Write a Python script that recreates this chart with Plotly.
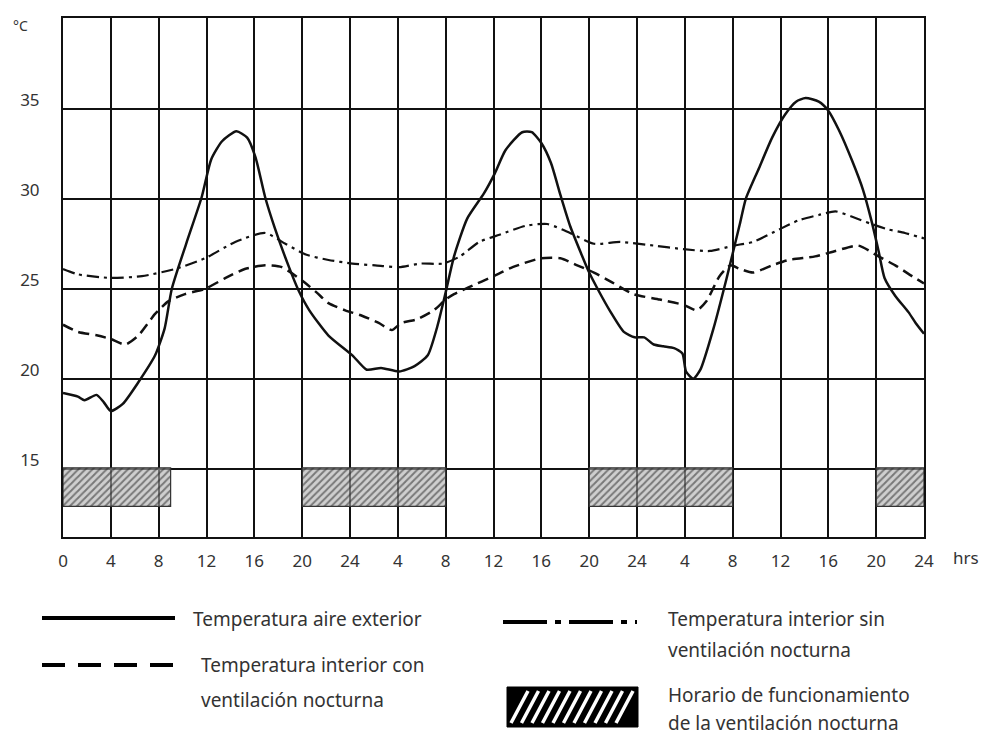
import plotly.graph_objects as go

# ---------------- data ----------------
ext_h = [0, 1.25, 1.8, 2.8, 3.4, 4, 5, 6.3, 7.7, 8.5, 9.1, 10.3, 11.6, 12.4, 13.3, 14.5, 15.4, 16.1,
         16.9, 17.7, 18.9, 19.7, 20.6, 22.2, 24.2, 25.4, 26.6, 28.1, 29.4, 30.5, 31.3, 32, 32.7,
         33.8, 35.2, 36.1, 37, 38.4, 39.2, 40, 40.8, 41.6, 42.4, 43.3, 44, 44.7, 45.8, 46.9, 47.8,
         48.6, 49.4, 50.2, 51.1, 51.8, 52.1, 52.7, 53.3, 54.4, 55.5, 56.6, 57.1, 58.2, 59.3, 60.4,
         61.3, 62.1, 63.2, 64, 64.9, 66, 66.9, 67.6, 68.2, 68.7, 69.6, 70.7, 71.3, 72]
ext_t = [19.2, 19.0, 18.8, 19.1, 18.7, 18.2, 18.6, 19.8, 21.3, 22.8, 25.0, 27.5, 30.1, 32.2, 33.2, 33.75, 33.4, 32.3,
         30.1, 28.4, 26.2, 24.9, 23.8, 22.4, 21.3, 20.5, 20.6, 20.4, 20.7, 21.3, 22.9, 24.8, 26.8,
         28.9, 30.3, 31.4, 32.7, 33.7, 33.7, 33.1, 32.0, 30.2, 28.5, 27.0, 25.9, 25.0, 23.7, 22.6, 22.3,
         22.3, 21.9, 21.8, 21.7, 21.4, 20.4, 20.0, 20.5, 22.8, 25.6, 28.6, 30.0, 31.7, 33.4, 34.7,
         35.4, 35.6, 35.4, 34.9, 33.8, 32.1, 30.5, 28.8, 27.1, 25.6, 24.6, 23.7, 23.1, 22.5]

sin_h = [0, 1.25, 4, 6.6, 9.4, 11.9, 14.4, 16.9, 18.6, 20.3, 22.2, 24.2, 26.1, 28.1, 29.9, 31.8, 33.2,
         34.8, 36.5, 38.7, 40.5, 42.4, 44.4, 46.6, 49.4, 51.9, 54.1, 56.1, 57.7, 59.9, 61.5, 63.2,
         64.6, 66, 67.6, 69, 70.4, 72]
sin_t = [26.1, 25.8, 25.6, 25.7, 26.1, 26.7, 27.6, 28.1, 27.5, 26.9, 26.6, 26.4, 26.3, 26.2, 26.4, 26.4, 26.8,
         27.6, 28.0, 28.5, 28.6, 28.1, 27.5, 27.6, 27.4, 27.2, 27.1, 27.4, 27.6, 28.3, 28.8, 29.1,
         29.3, 29.0, 28.6, 28.3, 28.1, 27.8]

con_h = [0, 1.25, 2.9, 4, 5.2, 6.3, 7.7, 8.8, 10.2, 11.9, 13.6, 15.2, 16.9, 18.3, 19.9, 21.2, 22.2,
         23.6, 25, 26.4, 27.5, 28.3, 29.6, 31, 32, 32.7, 34, 36, 37.6, 40, 41.6, 43, 44.4, 45.8,
         47.7, 49.9, 51.9, 53, 53.8, 54.9, 55.8, 56.6, 57.7, 59.3, 60.7, 62.9, 64.6, 66.5, 68.2,
         69.6, 71, 72]
con_t = [23.0, 22.6, 22.4, 22.2, 21.9, 22.4, 23.6, 24.3, 24.7, 25.0, 25.6, 26.1, 26.3, 26.2, 25.5, 24.8, 24.2,
         23.8, 23.5, 23.1, 22.7, 23.1, 23.3, 23.8, 24.4, 24.7, 25.1, 25.7, 26.2, 26.7, 26.7, 26.3, 25.9, 25.4,
         24.7, 24.4, 24.1, 23.8, 24.3, 25.7, 26.3, 26.1, 25.9, 26.3, 26.6, 26.8, 27.1, 27.4, 26.8,
         26.3, 25.7, 25.3]

vent_start = [0, 20, 44, 68]
vent_end = [9, 32, 56, 72]
vent_low = 12.9
vent_high = 15.05

x_tickvals = [0, 4, 8, 12, 16, 20, 24, 28, 32, 36, 40, 44, 48, 52, 56, 60, 64, 68, 72]
x_ticktext = ["0", "4", "8", "12", "16", "20", "24", "4", "8", "12", "16", "20", "24",
              "4", "8", "12", "16", "20", "24"]
y_tickvals = [15, 20, 25, 30, 35]

FONT = "Noto Sans"
TXT = "#333333"

fig = go.Figure()

fig.add_trace(go.Bar(
    x=[(a + b) / 2 for a, b in zip(vent_start, vent_end)],
    width=[b - a for a, b in zip(vent_start, vent_end)],
    y=[vent_high - vent_low] * len(vent_start),
    base=[vent_low] * len(vent_start),
    marker=dict(color="rgba(160,160,160,0.6)",
                pattern=dict(shape="/", fgcolor="#222222", bgcolor="rgba(175,175,175,0.6)",
                             size=5, solidity=0.4),
                line=dict(color="#333333", width=1.2)),
    showlegend=False, hoverinfo="skip"))

fig.add_trace(go.Scatter(x=sin_h, y=sin_t, mode="lines",
                         line=dict(color="#111111", width=2.2, dash="12px,5px,3px,5px",
                                   shape="spline", smoothing=0.6),
                         showlegend=False))
fig.add_trace(go.Scatter(x=con_h, y=con_t, mode="lines",
                         line=dict(color="#111111", width=2.5, dash="11px,6px",
                                   shape="spline", smoothing=0.6),
                         showlegend=False))
fig.add_trace(go.Scatter(x=ext_h, y=ext_t, mode="lines",
                         line=dict(color="#111111", width=2.5, shape="spline", smoothing=0.6),
                         showlegend=False))

# plot area in pixels: x 63..924, y 18..537
L, R, T, B = 63, 924, 18, 537
def px(x):
    return (x - L) / (R - L)
def py(y):
    return (B - y) / (B - T)

shapes = []
# legend samples
shapes.append(dict(type="line", xref="paper", yref="paper", x0=px(42), x1=px(175), y0=py(618), y1=py(618),
                   line=dict(color="black", width=4)))
shapes.append(dict(type="line", xref="paper", yref="paper", x0=px(42), x1=px(175), y0=py(665), y1=py(665),
                   line=dict(color="black", width=4, dash="23px,13px")))
shapes.append(dict(type="line", xref="paper", yref="paper", x0=px(503), x1=px(637), y0=py(622), y1=py(622),
                   line=dict(color="black", width=4, dash="44px,8px,6px,8px")))
shapes.append(dict(type="rect", xref="paper", yref="paper", x0=px(507), x1=px(638), y0=py(727), y1=py(687),
                   fillcolor="black", line=dict(color="black", width=1)))
xs = 511
while xs + 17 <= 634:
    shapes.append(dict(type="line", xref="paper", yref="paper", x0=px(xs), x1=px(xs + 17),
                       y0=py(723), y1=py(691), line=dict(color="white", width=3.5)))
    xs += 10.5

annotations = []
def txt(x, y, s, size=19):
    annotations.append(dict(xref="paper", yref="paper", x=px(x), y=py(y), text=s, showarrow=False,
                            xanchor="left", yanchor="middle",
                            font=dict(family=FONT, size=size, color=TXT)))
txt(191, 619, "Temperatura aire exterior")
txt(199, 665, "Temperatura interior con")
txt(199, 700, "ventilación nocturna")
txt(666, 619, "Temperatura interior sin")
txt(666, 650, "ventilación nocturna")
txt(666, 695, "Horario de funcionamiento")
txt(666, 723, "de la ventilación nocturna")
txt(11, 25, "°C", size=14)
txt(951, 557, "hrs", size=17)

fig.update_layout(
    width=981, height=738,
    margin=dict(l=L, r=981 - R, t=T, b=738 - B),
    paper_bgcolor="white", plot_bgcolor="white",
    barmode="overlay",
    showlegend=False,
    font=dict(family=FONT, color=TXT, size=16),
    shapes=shapes, annotations=annotations,
    xaxis=dict(range=[0, 72], tickvals=x_tickvals, ticktext=x_ticktext,
               showgrid=True, gridcolor="#111111", gridwidth=2,
               showline=True, linecolor="#111111", linewidth=2, mirror=True,
               zeroline=False, ticks="", ticklabelstandoff=8,
               tickfont=dict(family=FONT, size=17, color=TXT)),
    yaxis=dict(range=[11.2, 40.05], tickvals=y_tickvals,
               showgrid=True, gridcolor="#111111", gridwidth=1.5,
               showline=True, linecolor="#111111", linewidth=2, mirror=True,
               zeroline=False, ticks="", ticklabelstandoff=18, ticklabelshift=-9,
               tickfont=dict(family=FONT, size=17, color=TXT)),
)

fig.write_html("out.html")
